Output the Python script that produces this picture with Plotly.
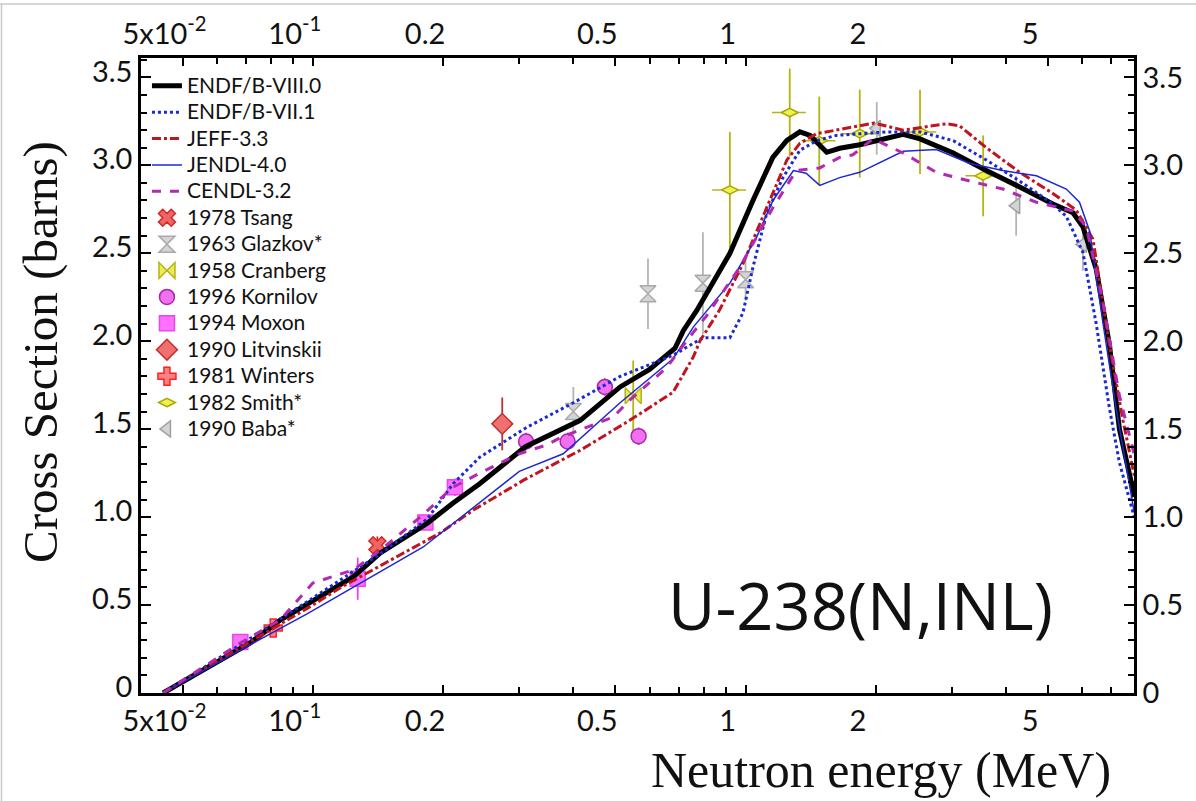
import plotly.graph_objects as go

# ---- Evaluated cross sections (E in MeV, sigma in barns) ----
endf8_e = [0.0451, 0.055, 0.0716, 0.0841, 0.1, 0.124, 0.143, 0.184, 0.211, 0.243, 0.31, 0.415,
           0.513, 0.60, 0.687, 0.718, 0.772, 0.92, 1.04, 1.156, 1.246, 1.335, 1.41, 1.54, 1.65,
           1.836, 2.313, 2.53, 3.02, 3.60, 4.30, 5.13, 5.71, 6.02, 6.46, 6.93, 7.31, 7.92]
endf8_s = [0.0, 0.12, 0.284, 0.415, 0.525, 0.66, 0.795, 0.966, 1.08, 1.19, 1.40, 1.55,
           1.74, 1.84, 1.96, 2.06, 2.176, 2.5, 2.80, 3.045, 3.142, 3.19, 3.17, 3.074, 3.097,
           3.117, 3.176, 3.15, 3.07, 2.97, 2.877, 2.78, 2.73, 2.65, 2.41, 1.98, 1.50, 1.115]

endf7_e = [0.0451, 0.0716, 0.1, 0.143, 0.184, 0.211, 0.243, 0.312, 0.40, 0.513, 0.68, 0.797,
           0.92, 0.986, 1.04, 1.12, 1.22, 1.335, 1.46, 1.62, 2.115, 2.53, 3.02, 3.60, 4.30,
           5.13, 5.51, 6.02, 6.46, 6.93, 7.31, 7.92]
endf7_s = [0.0, 0.31, 0.54, 0.79, 0.99, 1.19, 1.34, 1.51, 1.65, 1.80, 1.92, 2.02,
           2.02, 2.16, 2.42, 2.73, 2.93, 3.085, 3.14, 3.17, 3.19, 3.19, 3.14, 3.03, 2.91,
           2.78, 2.71, 2.505, 2.10, 1.62, 1.31, 0.995]

jeff_e = [0.0451, 0.068, 0.1, 0.116, 0.197, 0.235, 0.307, 0.415, 0.54, 0.68, 0.757, 0.784,
          0.872, 0.986, 1.12, 1.246, 1.335, 1.46, 1.62, 1.836, 1.98, 2.313, 2.91, 3.12, 3.60,
          4.30, 5.13, 5.81, 6.35, 6.93, 7.45, 7.92]
jeff_s = [0.0, 0.26, 0.50, 0.60, 0.91, 1.04, 1.21, 1.38, 1.55, 1.71, 1.91, 2.0,
          2.18, 2.44, 2.76, 3.03, 3.125, 3.18, 3.20, 3.225, 3.24, 3.20, 3.236, 3.225, 3.10,
          2.96, 2.84, 2.745, 2.58, 1.98, 1.55, 1.23]

jendl_e = [0.0451, 0.068, 0.097, 0.18, 0.30, 0.379, 0.513, 0.68, 0.757, 0.92, 1.06, 1.157,
           1.29, 1.38, 1.484, 1.65, 1.836, 2.313, 2.76, 3.30, 3.93, 4.70, 5.51, 5.91, 6.24,
           6.70, 7.18, 7.92]
jendl_s = [0.0, 0.244, 0.45, 0.83, 1.26, 1.36, 1.65, 1.90, 2.08, 2.33, 2.59, 2.80,
           2.97, 2.955, 2.886, 2.93, 2.96, 3.08, 3.09, 3.01, 2.97, 2.94, 2.865, 2.79, 2.625,
           2.10, 1.62, 1.02]

cendl_e = [0.0451, 0.068, 0.084, 0.1, 0.124, 0.143, 0.177, 0.211, 0.243, 0.30, 0.347, 0.372,
           0.495, 0.54, 0.657, 0.74, 0.81, 0.97, 1.157, 1.31, 1.484, 1.65, 1.77, 1.97, 2.313,
           2.76, 3.30, 3.93, 4.70, 5.71, 6.13, 6.70, 7.31, 7.92]
cendl_s = [0.0, 0.284, 0.415, 0.625, 0.70, 0.81, 1.0, 1.17, 1.25, 1.36, 1.41, 1.45,
           1.57, 1.665, 1.85, 2.02, 2.14, 2.42, 2.76, 2.97, 2.985, 3.045, 3.06, 3.15, 3.07,
           2.96, 2.91, 2.865, 2.79, 2.74, 2.65, 2.22, 1.69, 1.35]

# ---- Measurements: energy, cross section, uncertainty ----
tsang_e, tsang_s, tsang_d = [0.141], [0.84], [0.05]
glazkov_e = [0.40, 0.595, 0.797, 1.0]
glazkov_s = [1.60, 2.27, 2.33, 2.35]
glazkov_d = [0.14, 0.20, 0.29, 0.12]
cranberg_e, cranberg_s, cranberg_d = [0.55], [1.69], [0.20]
kornilov_e = [0.311, 0.388, 0.473, 0.566]
kornilov_s = [1.43, 1.43, 1.74, 1.46]
kornilov_d = [0.05, 0.05, 0.05, 0.05]
moxon_e = [0.068, 0.127, 0.182, 0.213]
moxon_s = [0.29, 0.65, 0.97, 1.17]
moxon_d = [0.03, 0.12, 0.04, 0.05]
litv_e, litv_s, litv_d = [0.274], [1.53], [0.15]
winters_e, winters_s, winters_d = [0.081], [0.37], [0.03]
smith_e = [0.92, 1.265, 1.48, 1.836, 2.53, 3.54]
smith_s = [2.86, 3.30, 3.14, 3.18, 3.19, 2.94]
smith_d = [0.33, 0.25, 0.25, 0.25, 0.24, 0.23]
baba_e = [2.01, 4.22, 6.02]
baba_s = [3.21, 2.77, 2.55]
baba_d = [0.15, 0.17, 0.15]

x_ticks = [0.05, 0.1, 0.2, 0.5, 1, 2, 5]
x_ticktext = ["5x10<sup>-2</sup>", "10<sup>-1</sup>", "0.2", "0.5", "1", "2", "5"]
x_minor = [0.06, 0.07, 0.08, 0.09, 0.3, 0.4, 0.6, 0.7, 0.8, 0.9, 3, 4, 6, 7]
y_ticks = [0, 0.5, 1.0, 1.5, 2.0, 2.5, 3.0, 3.5]
y_ticktext = ["0", "0.5", "1.0", "1.5", "2.0", "2.5", "3.0", "3.5"]


def legend_label(text):
    # legend rows keep an 18px pitch while the label itself is set a little larger
    return '<span style="font-size:21px">' + text + "</span>"


fig = go.Figure()

# points go underneath the evaluated curves
points = [
    ("1978 Tsang", tsang_e, tsang_s, tsang_d, "x", 15, "#f06464", "#d02828", "#d02828"),
    ("1963 Glazkov*", glazkov_e, glazkov_s, glazkov_d, "hourglass", 16, "#d4d4d4", "#aaaaaa", "#b4b4b4"),
    ("1958 Cranberg", cranberg_e, cranberg_s, cranberg_d, "bowtie", 16, "#ecec5a", "#b4b414", "#b4b414"),
    ("1996 Kornilov", kornilov_e, kornilov_s, kornilov_d, "circle", 15, "#f070f0", "#a828a8", "#c040c0"),
    ("1994 Moxon", moxon_e, moxon_s, moxon_d, "square", 15, "#ff70ff", "#e848e8", "#f040f0"),
    ("1990 Litvinskii", litv_e, litv_s, litv_d, "diamond", 16, "#f07070", "#c03030", "#c03030"),
    ("1981 Winters", winters_e, winters_s, winters_d, "cross", 15, "#ff8080", "#ff2020", "#ff2020"),
    ("1982 Smith*", smith_e, smith_s, smith_d, "diamond-wide", 12, "#f0f050", "#a8a800", "#b4b414"),
    ("1990 Baba*", baba_e, baba_s, baba_d, "triangle-left", 14, "#d4d4d4", "#a0a0a0", "#b4b4b4"),
]

curves = [
    ("ENDF/B-VIII.0", endf8_e, endf8_s, dict(color="#000000", width=5, dash="solid")),
    ("ENDF/B-VII.1", endf7_e, endf7_s, dict(color="#1a2ad0", width=3, dash="dot")),
    ("JEFF-3.3", jeff_e, jeff_s, dict(color="#c0141e", width=3, dash="dashdot")),
    ("JENDL-4.0", jendl_e, jendl_s, dict(color="#1e28d2", width=1.5, dash="solid")),
    ("CENDL-3.2", cendl_e, cendl_s, dict(color="#b428b4", width=3, dash="dash")),
]

for rank, (name, e, s, d, sym, size, fill, edge, ecol) in enumerate(points):
    err_x = None
    if name.startswith("1982"):
        err_x = dict(type="percent", value=9, color=ecol, thickness=1.5, width=0)
    fig.add_trace(go.Scatter(
        x=e, y=s, mode="markers", name=legend_label(name), legendrank=100 + rank,
        marker=dict(symbol=sym, size=size, color=fill, line=dict(color=edge, width=1.5)),
        error_y=dict(type="data", array=d, color=ecol, thickness=1.8, width=0),
        error_x=err_x,
    ))

for rank, (name, e, s, ln) in enumerate(curves):
    fig.add_trace(go.Scatter(x=e, y=s, mode="lines", name=legend_label(name),
                             legendrank=rank, line=ln))

# carrier for the top and right axes (same reference curve, not stroked)
fig.add_trace(go.Scatter(x=endf8_e, y=endf8_s, xaxis="x2", yaxis="y2", mode="lines",
                         line=dict(width=0), opacity=0, showlegend=False, hoverinfo="skip"))

xrange = [-1.397, 0.8976]
yrange = [0, 3.61]
tickfont = dict(family="Lato", size=29, color="#111111")

xcommon = dict(type="log", range=xrange, tickvals=x_ticks, ticktext=x_ticktext,
               ticks="inside", ticklen=8, tickwidth=2, tickcolor="black",
               showline=True, linecolor="black", linewidth=2.5, showgrid=False,
               zeroline=False, tickfont=tickfont, ticklabelshift=-18,
               minor=dict(tickvals=x_minor, ticks="inside", ticklen=6, tickwidth=1.5,
                          tickcolor="black", showgrid=False))
ycommon = dict(range=yrange, tickvals=y_ticks, ticktext=y_ticktext,
               ticks="inside", ticklen=10, tickwidth=2, tickcolor="black",
               showline=True, linecolor="black", linewidth=2.5, showgrid=False,
               zeroline=False, tickfont=tickfont,
               minor=dict(dtick=0.1, ticks="inside", ticklen=6, tickwidth=1.5,
                          tickcolor="black", showgrid=False))

fig.update_layout(
    width=1196, height=801,
    margin=dict(l=141, r=62, t=58, b=108),
    paper_bgcolor="white", plot_bgcolor="white",
    xaxis=dict(**xcommon, side="bottom"),
    xaxis2=dict(**xcommon, side="top", overlaying="x", anchor="y2"),
    yaxis=dict(**ycommon, side="left", ticklabelshift=-6),
    yaxis2=dict(**ycommon, side="right", overlaying="y", anchor="x2"),
    legend=dict(x=0.006, y=0.985, xanchor="left", yanchor="top",
                bgcolor="rgba(0,0,0,0)", borderwidth=0,
                font=dict(family="Lato", size=18, color="#111111"),
                tracegroupgap=0, traceorder="normal"),
    showlegend=True,
)

fig.add_annotation(text="Neutron energy (MeV)", xref="paper", yref="paper",
                   x=0.745, y=-0.121, xanchor="center", yanchor="middle", showarrow=False,
                   font=dict(family="Liberation Serif", size=50, color="#111111"))
fig.add_annotation(text="Cross Section (barns)", xref="paper", yref="paper",
                   x=-0.1017, y=0.537, xanchor="center", yanchor="middle",
                   showarrow=False, textangle=-90,
                   font=dict(family="Liberation Serif", size=49, color="#111111"))
fig.add_annotation(text="U-238(N,INL)", xref="paper", yref="paper",
                   x=0.725, y=0.1386, xanchor="center", yanchor="middle", showarrow=False,
                   font=dict(family="Open Sans", size=65, color="#111111"))

# thin frame along the top and left edges of the page
fig.add_shape(type="line", xref="paper", yref="paper", x0=-0.142, x1=1.063,
              y0=1.085, y1=1.085, line=dict(color="#c8c8c8", width=1.5))
fig.add_shape(type="line", xref="paper", yref="paper", x0=-0.1405, x1=-0.1405,
              y0=-0.17, y1=1.085, line=dict(color="#c8c8c8", width=1.5))

fig.write_html("out.html")
